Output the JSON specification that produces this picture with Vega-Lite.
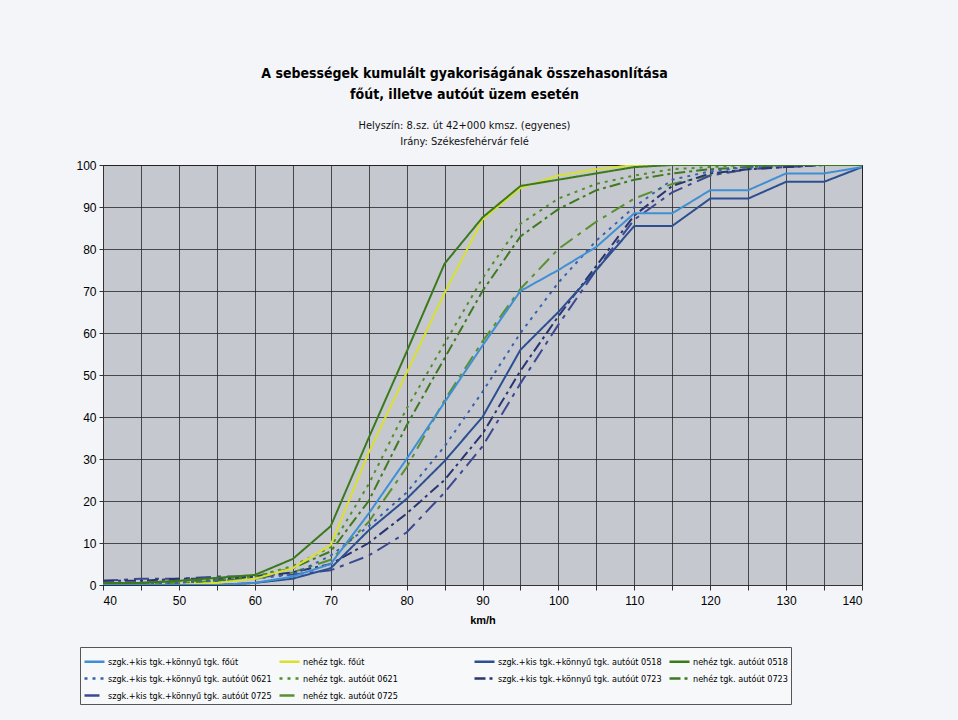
{
  "$schema": "https://vega.github.io/schema/vega-lite/v6.json",
  "width": 759,
  "height": 420,
  "autosize": {"type": "none"},
  "padding": {"left": 103, "top": 165, "right": 96, "bottom": 135},
  "background": "#f4f5f8",
  "config": {
    "view": {"fill": "#c6c8d0", "stroke": "#333", "strokeWidth": 1},
    "font": "Liberation Sans"
  },
  "title": {
    "text": ["A sebességek kumulált gyakoriságának összehasonlítása", "főút, illetve autóút üzem esetén"],
    "subtitle": ["Helyszín: 8.sz. út 42+000 kmsz. (egyenes)", "Irány: Székesfehérvár felé"],
    "font": "DejaVu Sans Condensed, Liberation Sans",
    "fontSize": 14,
    "fontWeight": "bold",
    "lineHeight": 21,
    "color": "#000",
    "subtitleFont": "DejaVu Sans Condensed, Liberation Sans",
    "subtitleFontSize": 11,
    "subtitleLineHeight": 16,
    "subtitleColor": "#111",
    "subtitlePadding": 18,
    "offset": 12,
    "anchor": "middle",
    "frame": "group",
    "dx": -18
  },
  "data": {
    "values": [
      {"speed": 40, "A": 0, "B": 0, "C": 0, "D": 0.5, "E": 0.5, "F": 0.5, "G": 1, "H": 0.5, "I": 1, "J": 0},
      {"speed": 45, "A": 0, "B": 0, "C": 0, "D": 0.5, "E": 0.5, "F": 0.5, "G": 1, "H": 0.5, "I": 1.5, "J": 0.5},
      {"speed": 50, "A": 0, "B": 0, "C": 0, "D": 1, "E": 0.5, "F": 1, "G": 1.5, "H": 1, "I": 1.5, "J": 0.5},
      {"speed": 55, "A": 0, "B": 0.5, "C": 0, "D": 1.7, "E": 1, "F": 1.5, "G": 1.5, "H": 1, "I": 2, "J": 1},
      {"speed": 60, "A": 0.5, "B": 1.5, "C": 0.5, "D": 2.4, "E": 1.5, "F": 2, "G": 2, "H": 2, "I": 2, "J": 1.5},
      {"speed": 65, "A": 2, "B": 4, "C": 1.5, "D": 6.2, "E": 2.5, "F": 4.5, "G": 3, "H": 4, "I": 2.5, "J": 3},
      {"speed": 70, "A": 5, "B": 9.5, "C": 4, "D": 14, "E": 7, "F": 9, "G": 5, "H": 8, "I": 3.5, "J": 6},
      {"speed": 75, "A": 17, "B": 31.5, "C": 13, "D": 35, "E": 14, "F": 24, "G": 10, "H": 20, "I": 7, "J": 15},
      {"speed": 80, "A": 30, "B": 50.5, "C": 20.5, "D": 55.5, "E": 22, "F": 42, "G": 17, "H": 38, "I": 12.5, "J": 28},
      {"speed": 85, "A": 43.5, "B": 69.5, "C": 29.5, "D": 76.5, "E": 33, "F": 57.5, "G": 25, "H": 54, "I": 22, "J": 44},
      {"speed": 90, "A": 57, "B": 87, "C": 40, "D": 87.5, "E": 46, "F": 73, "G": 36, "H": 70, "I": 33, "J": 58},
      {"speed": 95, "A": 70, "B": 94.5, "C": 56, "D": 95, "E": 60, "F": 86, "G": 51, "H": 83, "I": 48, "J": 70.5},
      {"speed": 100, "A": 75, "B": 97.5, "C": 65, "D": 96.5, "E": 72, "F": 92, "G": 64, "H": 89.5, "I": 62, "J": 80},
      {"speed": 105, "A": 80.5, "B": 99, "C": 75, "D": 98, "E": 82, "F": 95.5, "G": 76, "H": 94, "I": 75, "J": 86.5},
      {"speed": 110, "A": 88.5, "B": 100, "C": 85.5, "D": 99.5, "E": 90, "F": 97.5, "G": 88, "H": 96.5, "I": 87, "J": 92},
      {"speed": 115, "A": 88.5, "B": 100, "C": 85.5, "D": 100, "E": 96.5, "F": 99, "G": 95, "H": 98, "I": 93.5, "J": 95.5},
      {"speed": 120, "A": 94, "B": 100, "C": 92, "D": 100, "E": 98.5, "F": 99.5, "G": 98, "H": 99, "I": 97.5, "J": 97.5},
      {"speed": 125, "A": 94, "B": 100, "C": 92, "D": 100, "E": 99.5, "F": 100, "G": 99, "H": 99.5, "I": 99, "J": 99},
      {"speed": 130, "A": 98, "B": 100, "C": 96, "D": 100, "E": 100, "F": 100, "G": 99.5, "H": 100, "I": 99.5, "J": 100},
      {"speed": 135, "A": 98, "B": 100, "C": 96, "D": 100, "E": 100, "F": 100, "G": 100, "H": 100, "I": 100, "J": 100},
      {"speed": 140, "A": 99.5, "B": 100, "C": 99.5, "D": 100, "E": 100, "F": 100, "G": 100, "H": 100, "I": 100, "J": 100}
    ]
  },
  "transform": [
    {"fold": ["J", "I", "H", "G", "F", "E", "C", "B", "D", "A"], "as": ["key", "value"]},
    {"lookup": "key", "from": {"data": {"values": [
      {"key": "A", "series": "szgk.+kis tgk.+könnyű tgk. főút"},
      {"key": "B", "series": "nehéz tgk. főút"},
      {"key": "C", "series": "szgk.+kis tgk.+könnyű tgk. autóút 0518"},
      {"key": "D", "series": "nehéz tgk. autóút 0518"},
      {"key": "E", "series": "szgk.+kis tgk.+könnyű tgk. autóút 0621"},
      {"key": "F", "series": "nehéz tgk. autóút 0621"},
      {"key": "G", "series": "szgk.+kis tgk.+könnyű tgk. autóút 0723"},
      {"key": "H", "series": "nehéz tgk. autóút 0723"},
      {"key": "I", "series": "szgk.+kis tgk.+könnyű tgk. autóút 0725"},
      {"key": "J", "series": "nehéz tgk. autóút 0725"}
    ]}, "key": "key", "fields": ["series"]}}
  ],
  "mark": {"type": "line", "strokeWidth": 2, "clip": true},
  "encoding": {
    "x": {
      "field": "speed", "type": "quantitative",
      "scale": {"domain": [40, 140], "nice": false},
      "axis": {
        "title": "km/h",
        "values": [40, 45, 50, 55, 60, 65, 70, 75, 80, 85, 90, 95, 100, 105, 110, 115, 120, 125, 130, 135, 140],
        "labelExpr": "datum.value % 10 === 0 ? datum.label : ''",
        "grid": true, "gridColor": "#1e1e1e", "gridWidth": 1, "gridOpacity": 0.75,
        "domainColor": "#333", "tickColor": "#333", "tickSize": 5,
        "labelFontSize": 12, "labelColor": "#000", "labelPadding": 5,
        "titleFontSize": 11, "titleFontWeight": "bold", "titleColor": "#000", "titlePadding": 8
      }
    },
    "y": {
      "field": "value", "type": "quantitative",
      "scale": {"domain": [0, 100], "nice": false},
      "axis": {
        "title": null,
        "values": [0, 10, 20, 30, 40, 50, 60, 70, 80, 90, 100],
        "grid": true, "gridColor": "#1e1e1e", "gridWidth": 1, "gridOpacity": 0.75,
        "domainColor": "#333", "tickColor": "#333", "tickSize": 4,
        "labelFontSize": 12, "labelColor": "#000", "labelPadding": 3
      }
    },
    "color": {
      "field": "series", "type": "nominal",
      "scale": {
        "domain": ["szgk.+kis tgk.+könnyű tgk. főút", "nehéz tgk. főút", "szgk.+kis tgk.+könnyű tgk. autóút 0518", "nehéz tgk. autóút 0518", "szgk.+kis tgk.+könnyű tgk. autóút 0621", "nehéz tgk. autóút 0621", "szgk.+kis tgk.+könnyű tgk. autóút 0723", "nehéz tgk. autóút 0723", "szgk.+kis tgk.+könnyű tgk. autóút 0725", "nehéz tgk. autóút 0725"],
        "range": ["#3f8fd4", "#d8e030", "#2b4f90", "#3b7a1c", "#3563b0", "#4f8f28", "#2a3470", "#3e7a1f", "#3c4890", "#5a9030"]
      },
      "legend": {
        "title": null, "orient": "none", "legendX": -23, "legendY": 482, "direction": "horizontal",
        "columns": 4, "gridAlign": "all", "columnPadding": 2, "rowPadding": -5,
        "symbolType": "stroke", "symbolSize": 400, "symbolStrokeWidth": 2.5, "symbolOffset": 0,
        "labelFont": "DejaVu Sans Condensed, Liberation Sans", "labelFontSize": 9, "labelColor": "#000", "labelLimit": 260, "labelOffset": 2,
        "strokeColor": "#555", "fillColor": "#f7f8fa", "padding": 3
      }
    },
    "strokeDash": {
      "field": "series", "type": "nominal",
      "scale": {
        "domain": ["szgk.+kis tgk.+könnyű tgk. főút", "nehéz tgk. főút", "szgk.+kis tgk.+könnyű tgk. autóút 0518", "nehéz tgk. autóút 0518", "szgk.+kis tgk.+könnyű tgk. autóút 0621", "nehéz tgk. autóút 0621", "szgk.+kis tgk.+könnyű tgk. autóút 0723", "nehéz tgk. autóút 0723", "szgk.+kis tgk.+könnyű tgk. autóút 0725", "nehéz tgk. autóút 0725"],
        "range": [[1, 0], [1, 0], [1, 0], [1, 0], [3, 5], [3, 5], [11, 4, 3, 4], [11, 4, 3, 4], [15, 6, 4, 6], [15, 6, 4, 6]]
      },
      "legend": {
        "title": null, "orient": "none", "legendX": -23, "legendY": 482, "direction": "horizontal",
        "columns": 4, "gridAlign": "all", "columnPadding": 2, "rowPadding": -5,
        "symbolType": "stroke", "symbolSize": 400, "symbolStrokeWidth": 2.5, "symbolOffset": 0,
        "labelFont": "DejaVu Sans Condensed, Liberation Sans", "labelFontSize": 9, "labelColor": "#000", "labelLimit": 260, "labelOffset": 2,
        "strokeColor": "#555", "fillColor": "#f7f8fa", "padding": 3
      }
    }
  }
}
